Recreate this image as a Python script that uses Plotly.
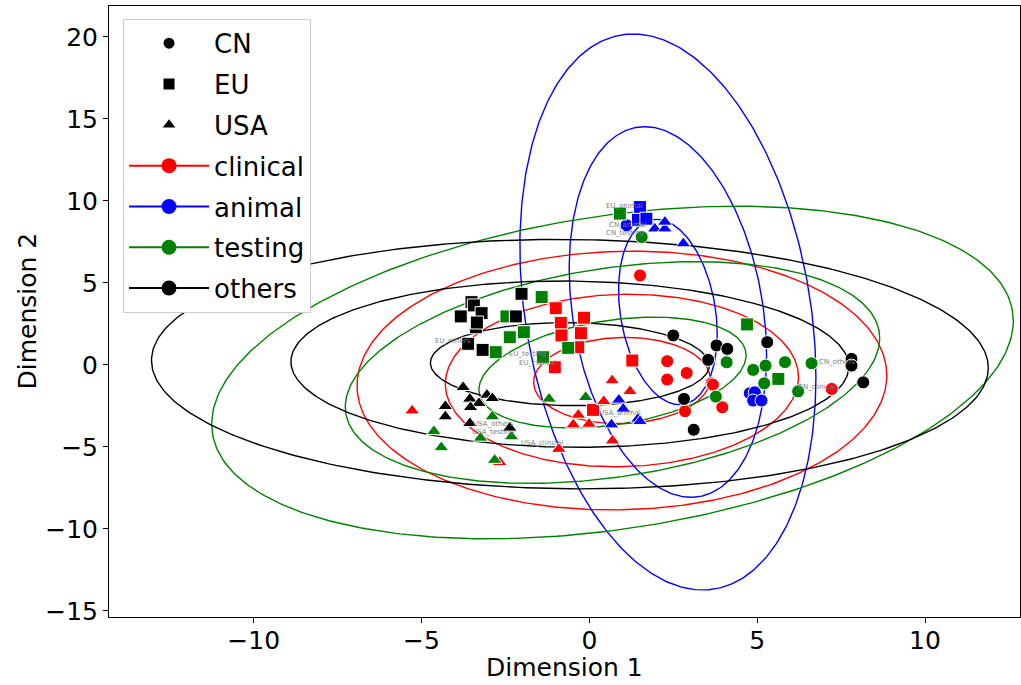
import numpy as np
import plotly.graph_objects as go

# ---------------- data ----------------
cn_clinical_x = [1.51, 2.32, 2.90, 2.32, 3.64, 3.68, 2.85, 3.96, 7.22]
cn_clinical_y = [5.46, 0.23, -0.49, -0.89, -1.12, -1.20, -2.82, -2.58, -1.46]
cn_animal_x = [1.11, 4.78, 4.93, 4.88, 5.13]
cn_animal_y = [8.52, -1.73, -1.67, -2.17, -2.17]
cn_testing_x = [1.56, 4.09, 4.88, 5.25, 5.83, 6.62, 5.21, 3.77, 6.22]
cn_testing_y = [7.80, 0.16, -0.30, -0.04, 0.17, 0.10, -1.12, -1.93, -1.61]
cn_others_x = [2.50, 3.79, 4.11, 3.54, 5.30, 2.82, 3.11, 7.81, 7.81, 8.16]
cn_others_y = [1.80, 1.19, 0.98, 0.31, 1.39, -2.07, -3.95, 0.37, -0.04, -1.06]

eu_clinical_x = [-1.00, -0.85, -0.16, -0.83, -0.25, -0.33, -1.03, 1.28, 0.11]
eu_clinical_y = [3.46, 2.57, 2.88, 1.80, 1.94, 1.08, -0.14, 0.27, -2.74]
eu_animal_x = [1.51, 1.45, 1.70]
eu_animal_y = [9.63, 8.85, 8.92]
eu_testing_x = [-1.42, -2.47, -2.37, -1.95, -2.79, -1.38, -0.63, 0.91, 4.70, 5.63]
eu_testing_y = [4.14, 2.96, 1.69, 2.00, 0.78, 0.47, 1.04, 9.23, 2.47, -0.85]
eu_others_x = [-3.51, -3.44, -3.21, -3.83, -3.38, -3.35, -2.02, -2.19, -3.61, -3.18]
eu_others_y = [3.83, 3.63, 3.16, 2.96, 2.30, 2.59, 4.34, 2.96, 1.29, 0.92]

usa_clinical_x = [-5.28, -2.67, -0.91, 0.68, 1.21, 0.43, -0.33, -0.48, -0.01, 0.69]
usa_clinical_y = [-2.79, -5.94, -5.13, -0.95, -1.61, -2.22, -3.05, -3.64, -3.60, -4.62]
usa_animal_x = [0.88, 1.01, 0.66, 1.45, 1.51, 1.95, 2.25, 2.25, 2.80]
usa_animal_y = [-2.13, -2.68, -3.64, -3.29, -3.44, 8.31, 8.31, 8.72, 7.40]
usa_testing_x = [-2.89, -4.63, -4.41, -3.24, -2.32, -2.82, -1.20, -0.11]
usa_testing_y = [-3.15, -4.05, -5.03, -4.45, -4.37, -5.80, -2.07, -1.97]
usa_others_x = [-3.76, -3.56, -3.05, -2.89, -3.29, -3.54, -4.29, -4.29, -3.56, -2.37]
usa_others_y = [-1.36, -2.07, -1.83, -2.03, -2.34, -2.58, -2.52, -3.15, -3.56, -3.84]

# confidence ellipses per category (centre, std x, std y, correlation), drawn at 1, 2, 3 std
categories = ["clinical", "animal", "testing", "others"]
category_colors = ["red", "blue", "green", "black"]
ellipse_cx = [0.97, 2.34, 0.69, -0.58]
ellipse_cy = [-0.95, 3.23, -0.46, 0.05]
ellipse_sx = [2.63, 1.47, 3.98, 4.155]
ellipse_sy = [2.63, 5.65, 3.38, 2.535]
ellipse_rho = [0.04, -0.234, 0.31, -0.03]
ellipse_nstd = [1, 2, 3]

regions = ["CN", "EU", "USA"]
region_symbols = ["circle", "square", "triangle-up"]

label_texts = ["EU_others", "EU_testing", "EU_clinical", "EU_animal",
               "CN_others", "CN_clinical", "CN_animal", "CN_testing",
               "USA_others", "USA_testing", "USA_clinical", "USA_animal"]
label_x = [-4.07, -1.83, -1.54, 1.06, 7.37, 6.77, 1.15, 1.06, -2.87, -2.87, -1.42, 0.91]
label_y = [1.49, 0.64, 0.09, 9.68, 0.16, -1.36, 8.54, 8.05, -3.60, -4.07, -4.78, -2.95]

x_ticks = [-10, -5, 0, 5, 10]
y_ticks = [-15, -10, -5, 0, 5, 10, 15, 20]

groups = {
    ("CN", "clinical"): (cn_clinical_x, cn_clinical_y),
    ("CN", "animal"): (cn_animal_x, cn_animal_y),
    ("CN", "testing"): (cn_testing_x, cn_testing_y),
    ("CN", "others"): (cn_others_x, cn_others_y),
    ("EU", "clinical"): (eu_clinical_x, eu_clinical_y),
    ("EU", "animal"): (eu_animal_x, eu_animal_y),
    ("EU", "testing"): (eu_testing_x, eu_testing_y),
    ("EU", "others"): (eu_others_x, eu_others_y),
    ("USA", "clinical"): (usa_clinical_x, usa_clinical_y),
    ("USA", "animal"): (usa_animal_x, usa_animal_y),
    ("USA", "testing"): (usa_testing_x, usa_testing_y),
    ("USA", "others"): (usa_others_x, usa_others_y),
}

fig = go.Figure()

# ellipses
t = np.linspace(0, 2 * np.pi, 361)
for ci, cat in enumerate(categories):
    for k in ellipse_nstd:
        ex = ellipse_cx[ci] + k * ellipse_sx[ci] * np.cos(t)
        ey = ellipse_cy[ci] + k * ellipse_sy[ci] * (
            ellipse_rho[ci] * np.cos(t) + np.sqrt(1 - ellipse_rho[ci] ** 2) * np.sin(t))
        fig.add_trace(go.Scatter(x=ex, y=ey, mode="lines",
                                 line=dict(color=category_colors[ci], width=1.4),
                                 showlegend=False, hoverinfo="skip"))

# points
marker_sizes = {"circle": 13, "square": 13, "triangle-up": 13}
for ri, reg in enumerate(regions):
    for ci, cat in enumerate(categories):
        gx, gy = groups[(reg, cat)]
        sym = region_symbols[ri]
        fig.add_trace(go.Scatter(
            x=gx, y=gy, mode="markers",
            marker=dict(symbol=sym, size=marker_sizes[sym], color=category_colors[ci],
                        line=dict(color="white", width=1)),
            showlegend=False, name=f"{reg}_{cat}"))

# legend entries
for ri, reg in enumerate(regions):
    fig.add_trace(go.Scatter(x=[None], y=[None], mode="markers", name=reg,
                             legendgroup=reg,
                             marker=dict(symbol=region_symbols[ri], size=11, color="black")))
for ci, cat in enumerate(categories):
    fig.add_trace(go.Scatter(x=[None], y=[None], mode="lines+markers", name=cat,
                             legendgroup=cat,
                             line=dict(color=category_colors[ci], width=2),
                             marker=dict(symbol="circle", size=15, color=category_colors[ci])))

for txt, lx, ly in zip(label_texts, label_x, label_y):
    fig.add_annotation(x=lx, y=ly, text=txt, showarrow=False,
                       font=dict(size=7, color="#808080", family="DejaVu Sans"),
                       xanchor="center", yanchor="middle")

# axis titles
fig.add_annotation(x=0.5, y=0, xref="paper", yref="paper", text="Dimension 1",
                   showarrow=False, xanchor="center", yanchor="middle", yshift=-50,
                   font=dict(size=25, color="black", family="DejaVu Sans"))
fig.add_annotation(x=0, y=0.5, xref="paper", yref="paper", text="Dimension 2",
                   showarrow=False, xanchor="center", yanchor="middle", xshift=-82,
                   textangle=-90,
                   font=dict(size=25, color="black", family="DejaVu Sans"))

axis_common = dict(showline=True, mirror=True, linecolor="black", linewidth=1,
                   ticks="outside", ticklen=5, tickwidth=1, tickcolor="black",
                   showgrid=False, zeroline=False,
                   tickfont=dict(size=25, color="black", family="DejaVu Sans"))

fig.update_layout(
    width=1021, height=685,
    margin=dict(l=109, r=1, t=6, b=68),
    paper_bgcolor="white", plot_bgcolor="white",
    font=dict(family="DejaVu Sans", color="black"),
    xaxis=dict(range=[-14.31, 12.83], tickvals=x_ticks, ticklabelstandoff=-4,
               **axis_common),
    yaxis=dict(range=[-15.37, 21.89], tickvals=y_ticks, **axis_common),
    legend=dict(x=0.0154, y=0.979, xanchor="left", yanchor="top",
                bgcolor="white", bordercolor="#cccccc", borderwidth=1,
                font=dict(size=26, color="black", family="DejaVu Sans"),
                traceorder="grouped", tracegroupgap=4, itemwidth=80),
    showlegend=True,
)

fig.write_html("out.html", config={"displayModeBar": False})
with open("out.html", "r", encoding="utf-8") as f:
    html = f.read()
html = html.replace("<head>", "<head><style>html,body{margin:0;padding:0;overflow:hidden;}</style>", 1)
with open("out.html", "w", encoding="utf-8") as f:
    f.write(html)
